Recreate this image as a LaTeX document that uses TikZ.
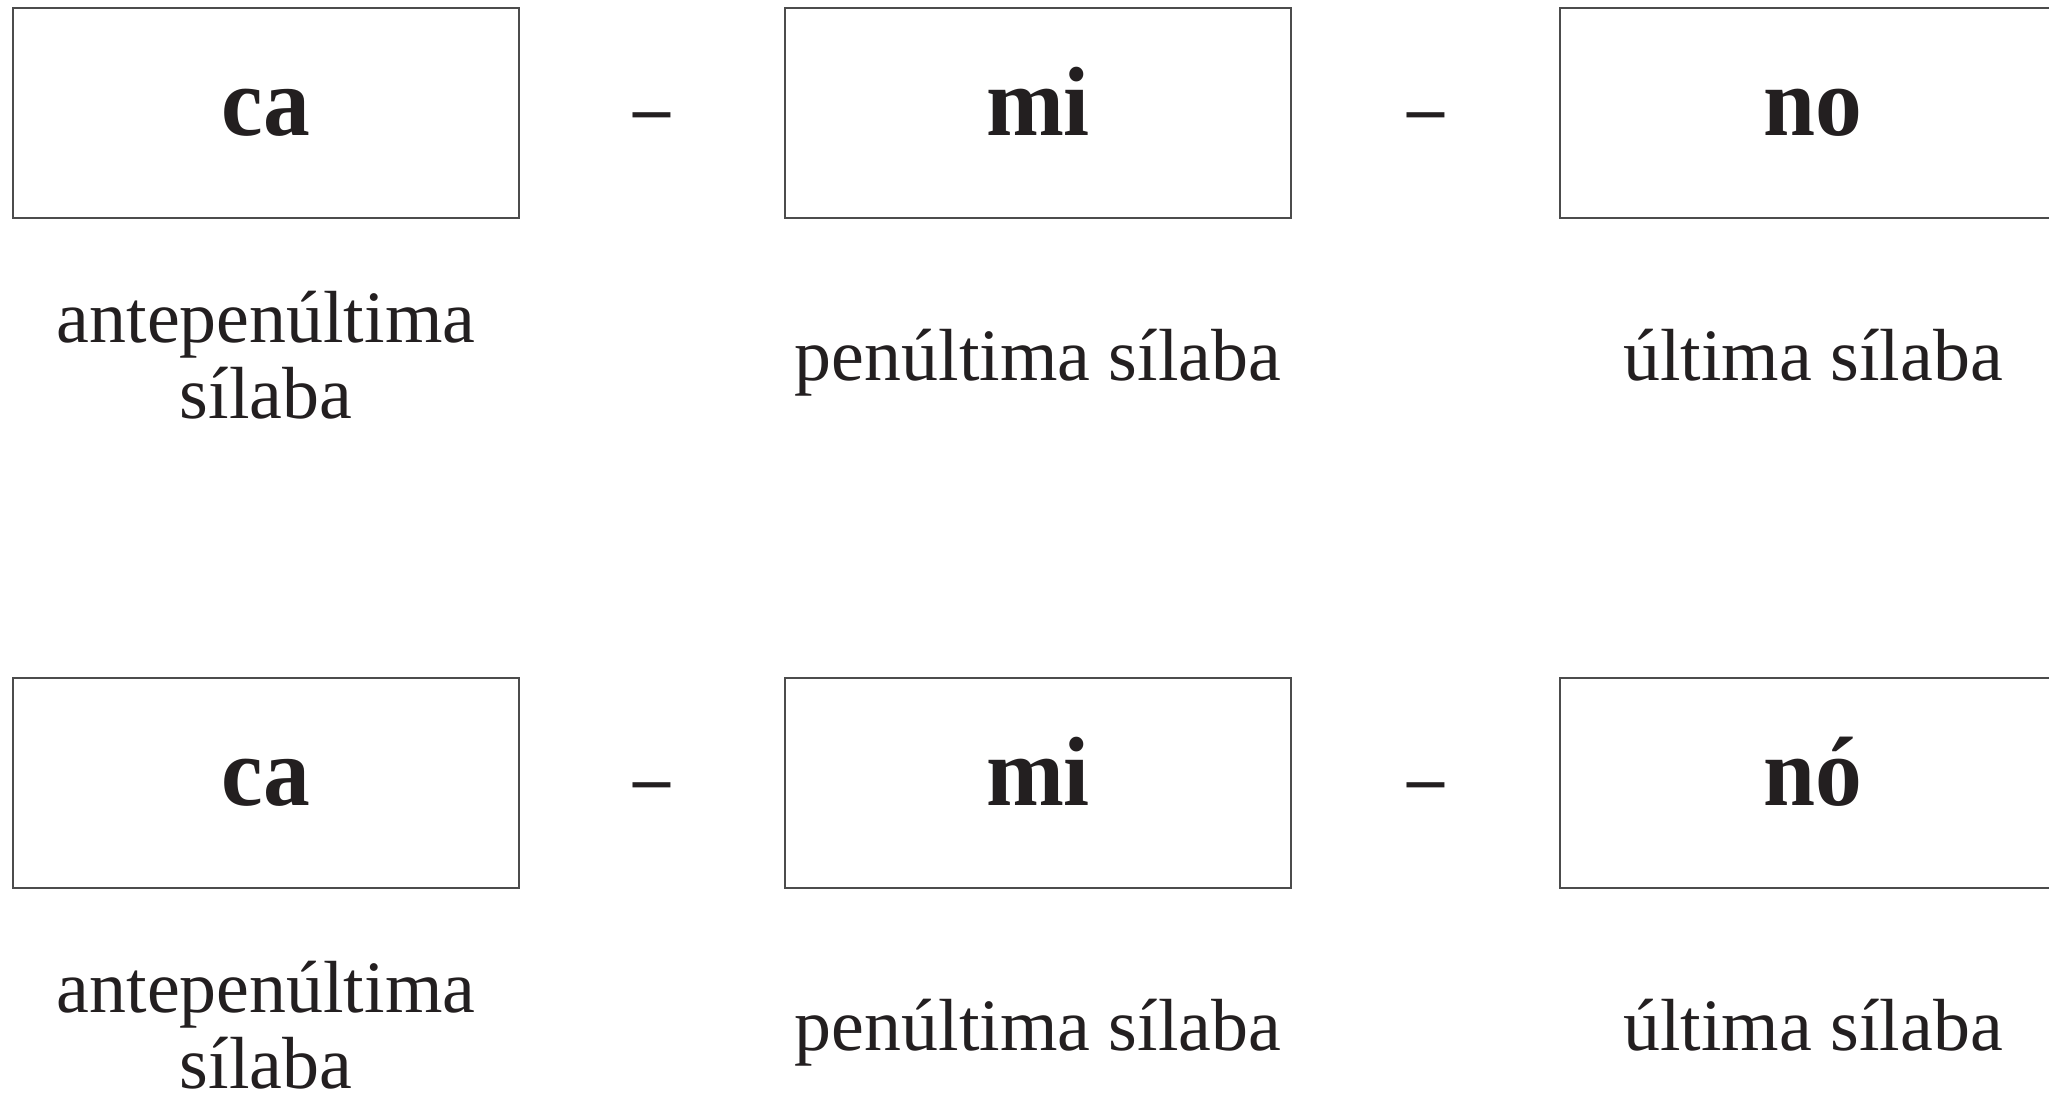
\documentclass[tikz,border=0pt]{standalone}
\usepackage{fontspec}
\setmainfont{Liberation Serif}
\newfontfamily\sylfont[FakeStretch=0.95]{Liberation Serif}
\usetikzlibrary{calc}
\definecolor{ink}{HTML}{231F20}
\begin{document}
\begin{tikzpicture}[x=0.01cm,y=-0.01cm,
        sylbox/.style={draw=black!70,line width=0.6pt,minimum width=5.06cm,minimum height=2.10cm,
            inner sep=0pt,text=ink,font=\sylfont\bfseries\fontsize{28}{28}\selectfont,
            text height=12.8pt,text depth=0pt},
        lbl/.style={text=ink,align=center,anchor=base,inner sep=0pt,
            font=\fontsize{21}{21.6}\selectfont},
        hyph/.style={text=ink,inner sep=0pt,yshift=-0.1cm,font=\bfseries\fontsize{21}{21}\selectfont}]
    \useasboundingbox (0,0) rectangle (2049,1096);

    % draw the two words, one row each
    \foreach \r/\dy/\last in {1/0/no, 2/670/nó}{
        \node[sylbox] (ca\r) at (266,{113+\dy}) {ca};
        \node[sylbox] (mi\r) at (1038,{113+\dy}) {mi};
        \node[sylbox] (no\r) at (1813,{113+\dy}) {\last};

        % the hyphens between the syllables
        \node[hyph] (h\r a) at ($(ca\r)!0.5!(mi\r)$) {–};
        \node[hyph] (h\r b) at ($(mi\r)!0.5!(no\r)$) {–};

        % names of the syllables
        \node[lbl] (ante\r) at (266,{418+\dy}) {antepenúltima\\sílaba};
        \node[lbl] (pen\r) at (1038,{380+\dy}) {penúltima sílaba};
        \node[lbl] (ult\r) at (1813,{380+\dy}) {última sílaba};
    }
\end{tikzpicture}
\end{document}
